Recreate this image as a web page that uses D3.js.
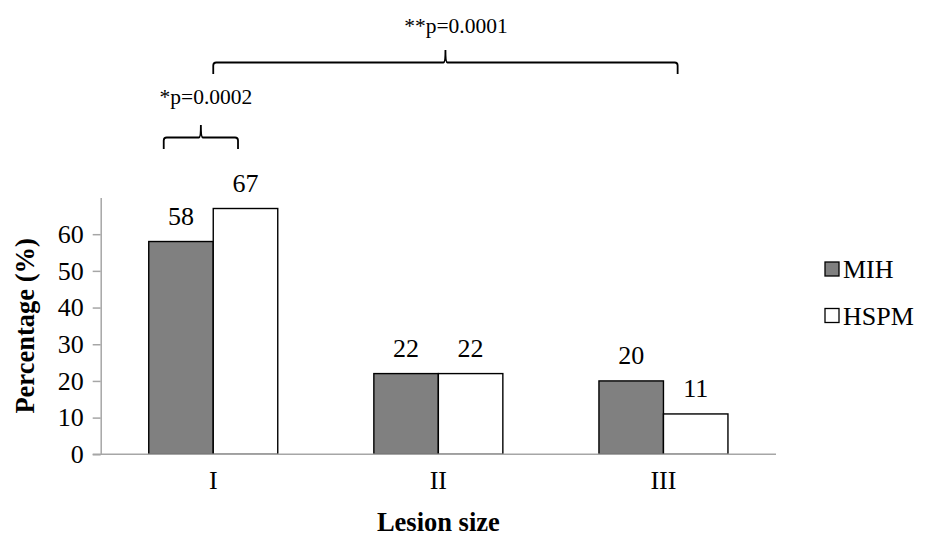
<!DOCTYPE html>
<html>
<head>
<meta charset="utf-8">
<script src="https://cdn.jsdelivr.net/npm/d3@7"></script>
<style>
  body { margin: 0; background: #fff; }
  text { font-family: "Liberation Serif", "Times New Roman", serif; fill: #000; }
</style>
</head>
<body>
<div id="chart"></div>
<script>
// Data
const categories = ["I", "II", "III"];
const seriesNames = ["MIH", "HSPM"];
const mihValues = [58, 22, 20];
const hspmValues = [67, 22, 11];
const yTicks = [0, 10, 20, 30, 40, 50, 60];
const seriesColors = ["#808080", "#ffffff"];

// significance brackets: from category + offset to category + offset (offset in band steps)
const brackets = [
  { label: "*p=0.0002", from: ["I", -0.22], to: ["I", 0.11], tip: 0.5, lineY: 137.5, textX: 206, textY: 104 },
  { label: "**p=0.0001", from: ["I", 0.0], to: ["III", 0.063], tip: 0.5, lineY: 62.5, textX: 456, textY: 33 },
];

const width = 933, height = 538;
const margin = { top: 197.5, right: 157, bottom: 83.7, left: 100.7 };
const w = width - margin.left - margin.right;
const h = height - margin.top - margin.bottom;

const svg = d3.select("#chart").append("svg")
  .attr("width", width).attr("height", height);

const g = svg.append("g").attr("transform", `translate(${margin.left},${margin.top})`);

const x0 = d3.scaleBand().domain(categories).range([0, w]).paddingInner(0).paddingOuter(0);
const x1 = d3.scaleBand().domain(seriesNames).range([0, 129]);
const barOffset = (x0.bandwidth() - 129) / 2;
const y = d3.scaleLinear().domain([0, 70]).range([h, 0]);

// Bars
const rows = categories.map((c, i) => ({ cat: c, vals: [mihValues[i], hspmValues[i]] }));
const groups = g.selectAll("g.cat").data(rows).join("g")
  .attr("class", "cat")
  .attr("transform", d => `translate(${x0(d.cat) + barOffset},0)`);

groups.selectAll("rect")
  .data(d => d.vals.map((v, j) => ({ s: seriesNames[j], v, j })))
  .join("rect")
  .attr("x", d => x1(d.s))
  .attr("y", d => y(d.v))
  .attr("width", x1.bandwidth())
  .attr("height", d => h - y(d.v))
  .attr("fill", d => seriesColors[d.j])
  .attr("stroke", "#000").attr("stroke-width", 1.4);

groups.selectAll("text.val")
  .data(d => d.vals.map((v, j) => ({ s: seriesNames[j], v })))
  .join("text")
  .attr("class", "val")
  .attr("x", d => x1(d.s) + x1.bandwidth() / 2)
  .attr("y", d => y(d.v) - 17)
  .attr("text-anchor", "middle").attr("font-size", 26)
  .text(d => d.v);

// Axes
const yAxisG = g.append("g")
  .call(d3.axisLeft(y).tickValues(yTicks).tickSize(8).tickSizeOuter(0).tickPadding(9));
yAxisG.selectAll("path, line").attr("stroke", "#a6a6a6").attr("stroke-width", 1.5);
yAxisG.selectAll("text").attr("font-size", 26).attr("font-family", "Liberation Serif").attr("fill", "#000");

const xAxisG = g.append("g").attr("transform", `translate(0,${h})`)
  .call(d3.axisBottom(x0).tickSize(0).tickSizeOuter(0).tickPadding(12));
xAxisG.select("path").attr("stroke", "#a6a6a6").attr("stroke-width", 1.5)
  .attr("d", `M-8,0H${w}`);
xAxisG.selectAll("text").attr("font-size", 26).attr("font-family", "Liberation Serif")
  .attr("fill", "#000").attr("dy", null).attr("y", 35);

// Axis titles
svg.append("text")
  .attr("x", margin.left + w / 2).attr("y", 531)
  .attr("text-anchor", "middle").attr("font-size", 26.5).attr("font-weight", "bold")
  .text("Lesion size");

svg.append("text")
  .attr("transform", "rotate(-90)")
  .attr("x", -(margin.top + h / 2)).attr("y", 34)
  .attr("text-anchor", "middle").attr("font-size", 26.5).attr("font-weight", "bold")
  .text("Percentage (%)");

// Legend
const legend = svg.append("g").attr("transform", "translate(825,262)");
seriesNames.forEach((s, i) => {
  const row = legend.append("g").attr("transform", `translate(0,${i * 46.5})`);
  row.append("rect").attr("width", 14).attr("height", 14)
    .attr("fill", seriesColors[i]).attr("stroke", "#000").attr("stroke-width", 1.3);
  row.append("text").attr("x", 18).attr("y", 16).attr("font-size", 26).text(s);
});

// Significance brackets
const bx = ([cat, off]) => margin.left + x0(cat) + x0.bandwidth() / 2 + off * x0.step();
brackets.forEach(b => {
  const xa = bx(b.from), xb = bx(b.to);
  const xt = xa + (xb - xa) * b.tip;
  const yl = b.lineY, r = 3, drop = 11.5, rise = 12.5;
  const path = d3.path();
  path.moveTo(xa, yl + drop);
  path.lineTo(xa, yl + r);
  path.quadraticCurveTo(xa, yl, xa + r, yl);
  path.lineTo(xt - 2, yl);
  path.quadraticCurveTo(xt, yl, xt, yl - rise);
  path.quadraticCurveTo(xt, yl, xt + 2, yl);
  path.lineTo(xb - r, yl);
  path.quadraticCurveTo(xb, yl, xb, yl + r);
  path.lineTo(xb, yl + drop);
  svg.append("path").attr("d", path.toString())
    .attr("fill", "none").attr("stroke", "#000").attr("stroke-width", 1.8);
  svg.append("text").attr("x", b.textX).attr("y", b.textY)
    .attr("text-anchor", "middle").attr("font-size", 21.5).text(b.label);
});
</script>
</body>
</html>
